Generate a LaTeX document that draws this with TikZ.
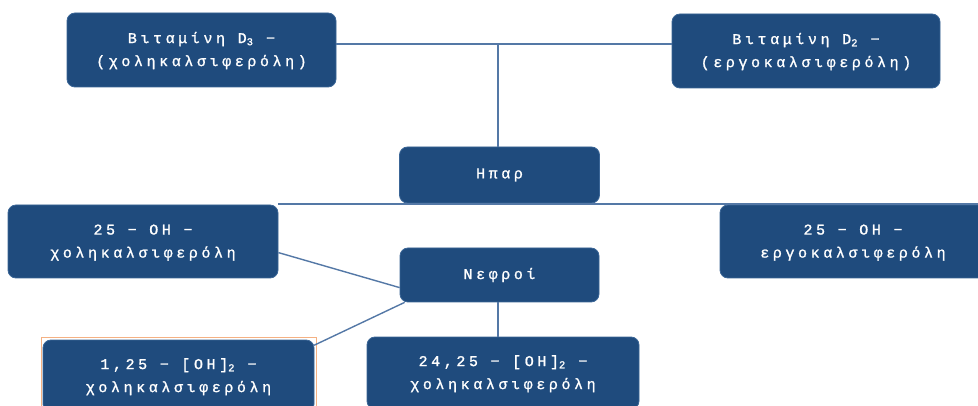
\documentclass[tikz,border=0pt]{standalone}
\usepackage{fontspec}
\newfontfamily\monogr[LetterSpace=24,FakeBold=1.2]{Liberation Mono}
\definecolor{boxfill}{HTML}{1F4B7D}
\definecolor{boxedge}{HTML}{3A6596}
\definecolor{conncol}{HTML}{5478A6}
\definecolor{selorange}{HTML}{F4B183}
\newcommand{\twolines}[2]{\begin{tabular}{@{}c@{}}#1\\#2\end{tabular}}
\begin{document}
\begin{tikzpicture}[x=1pt,y=-1pt,
  boxnode/.style={rectangle, rounded corners=8pt, fill=boxfill, draw=boxedge, line width=0.8pt,
    inner sep=0pt, text=white, font=\monogr\fontsize{15}{23}\selectfont},
  conn/.style={draw=conncol, line width=1.4pt}]
\clip (0,0) rectangle (978,406);
\fill[white] (0,0) rectangle (978,406);
\coordinate (top) at (498,44);
\coordinate (midl) at (278,204);
\coordinate (midr) at (980,204);
\node[boxnode, minimum width=269, minimum height=74] (d3) at (201.5,50)
  {\twolines{Βιταμίνη D\textsubscript{3} −}{(χοληκαλσιφερόλη)}};
\node[boxnode, minimum width=268, minimum height=74] (d2) at (806,51)
  {\twolines{Βιταμίνη D\textsubscript{2} −}{(εργοκαλσιφερόλη)}};
\node[boxnode, minimum width=200, minimum height=56] (liver) at (499.5,175) {Ηπαρ};
\node[boxnode, minimum width=270, minimum height=73] (oh3) at (143,241.5)
  {\twolines{25 − OH −}{χοληκαλσιφερόλη}};
\node[boxnode, minimum width=266, minimum height=73] (oh2) at (853,241.5)
  {\twolines{25 − OH −}{εργοκαλσιφερόλη}};
\node[boxnode, minimum width=199, minimum height=54] (kidney) at (499.5,275) {Νεφροί};
\node[boxnode, minimum width=271, minimum height=72] (c125) at (178.5,376)
  {\raisebox{6pt}{\twolines{1,25 − [OH]\textsubscript{2} −}{χοληκαλσιφερόλη}}};
\node[boxnode, minimum width=272, minimum height=72] (c2425) at (503,373)
  {\raisebox{3pt}{\twolines{24,25 − [OH]\textsubscript{2} −}{χοληκαλσιφερόλη}}};
\draw[selorange, line width=0.7pt] ([shift={(-1.5,-2)}]c125.north west) rectangle ([shift={(1.5,2)}]c125.south east);
\draw[conn] (d3.east |- top) -- (d2.west |- top);
\draw[conn] (top) -- (top |- liver.north);
\draw[conn] (midl) -- (midr);
\draw[conn] ([yshift=-48]oh3.north east) -- ([yshift=-40]kidney.north west);
\draw[conn] ([xshift=5]kidney.south west) -- ([shift={(-1,6)}]c125.north east);
\draw[conn] (kidney.south -| top) -- (top |- c2425.north);
\end{tikzpicture}
\end{document}
